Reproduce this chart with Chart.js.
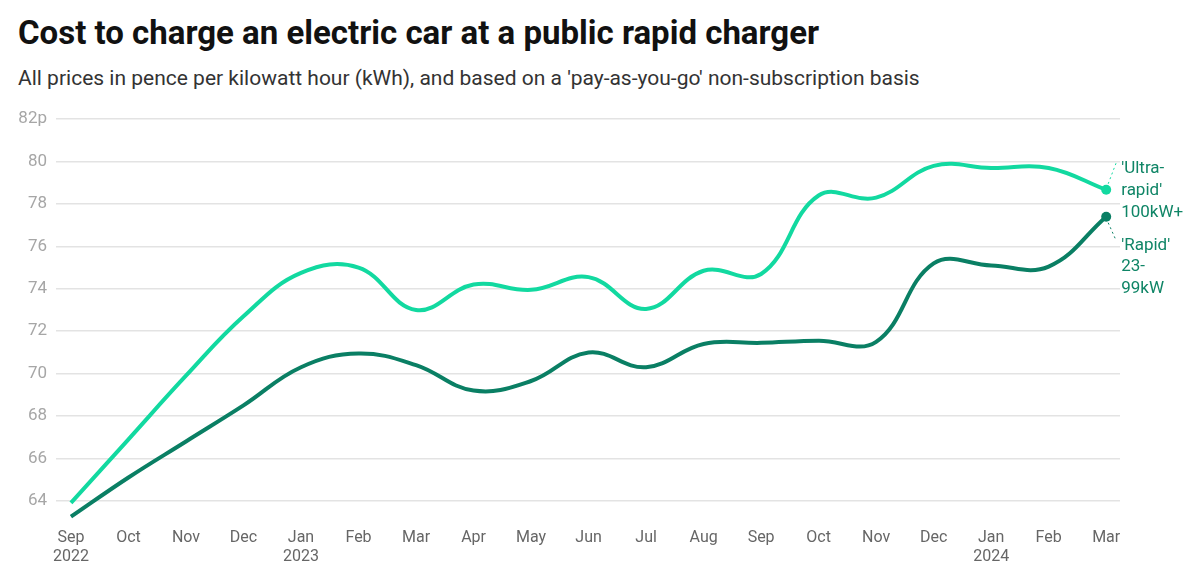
<!DOCTYPE html>
<html>
<head>
<meta charset="utf-8">
<script src="https://cdn.jsdelivr.net/npm/chart.js@4"></script>
<style>
  body { margin: 0; background: #fff; font-family: Roboto, sans-serif; }
  #wrap { position: relative; width: 1198px; height: 582px; overflow: hidden; }
  h1 { position: absolute; left: 18px; top: 13px; margin: 0; font-size: 33px; font-weight: 700; color: #111; }
  .sub { position: absolute; left: 18px; top: 66px; margin: 0; font-size: 21px; color: #333; }
  #box { position: absolute; left: 0; top: 100px; width: 1198px; height: 482px; }
</style>
</head>
<body>
<div id="wrap">
  <h1>Cost to charge an electric car at a public rapid charger</h1>
  <p class="sub">All prices in pence per kilowatt hour (kWh), and based on a 'pay-as-you-go' non-subscription basis</p>
  <div id="box"><canvas id="chart"></canvas></div>
</div>
<script>
const months = ["Sep", "Oct", "Nov", "Dec", "Jan", "Feb", "Mar", "Apr", "May", "Jun",
  "Jul", "Aug", "Sep", "Oct", "Nov", "Dec", "Jan", "Feb", "Mar"];
const years = { 0: "2022", 4: "2023", 16: "2024" };
const ultraRapid = [63.9, 66.9, 69.9, 72.7, 74.75, 75.0, 73.0, 74.2, 73.95, 74.55,
  73.05, 74.85, 74.7, 78.4, 78.3, 79.8, 79.7, 79.7, 78.67];
const rapid = [63.25, 65.1, 66.8, 68.5, 70.3, 70.95, 70.4, 69.2, 69.65, 71.0,
  70.3, 71.4, 71.45, 71.55, 71.5, 75.2, 75.1, 75.05, 77.4];
const yTicks = [64, 66, 68, 70, 72, 74, 76, 78, 80, 82];
const ultraLabel = ["'Ultra-", "rapid'", "100kW+"];
const rapidLabel = ["'Rapid'", "23-", "99kW"];

const lightGreen = "#12d9a0";
const darkGreen = "#0a7f64";
const last = months.length - 1;

const endLabels = {
  id: "endLabels",
  afterDatasetsDraw(chart) {
    const ctx = chart.ctx;
    const x = chart.scales.x;
    const y = chart.scales.y;
    const px = x.getPixelForValue(last);
    const pu = y.getPixelForValue(ultraRapid[last]);
    const pr = y.getPixelForValue(rapid[last]);
    ctx.save();
    ctx.setLineDash([2, 3]);
    ctx.lineWidth = 1;
    ctx.strokeStyle = lightGreen;
    ctx.beginPath();
    ctx.moveTo(px + 2, pu - 6);
    ctx.lineTo(px + 10, pu - 27);
    ctx.stroke();
    ctx.strokeStyle = darkGreen;
    ctx.beginPath();
    ctx.moveTo(px + 2, pr + 6);
    ctx.lineTo(px + 10, pr + 24);
    ctx.stroke();
    ctx.setLineDash([]);
    ctx.fillStyle = "#0f8566";
    ctx.font = "17px Roboto";
    ctx.textBaseline = "middle";
    ctx.textAlign = "left";
    ultraLabel.forEach((t, i) => ctx.fillText(t, px + 15, pu - 21 + i * 22));
    rapidLabel.forEach((t, i) => ctx.fillText(t, px + 15, pr + 29 + i * 21.5));
    ctx.restore();
  },
};

const lastOnly = (r) => (c) => (c.dataIndex === last ? r : 0);

new Chart(document.getElementById("chart"), {
  type: "line",
  data: {
    datasets: [
      {
        label: "'Ultra-rapid' 100kW+",
        data: ultraRapid.map((v, i) => ({ x: i, y: v })),
        borderColor: lightGreen,
        backgroundColor: lightGreen,
        borderWidth: 4,
        tension: 0.4,
        pointRadius: lastOnly(5),
        pointHoverRadius: lastOnly(5),
        pointBorderWidth: 0,
      },
      {
        label: "'Rapid' 23-99kW",
        data: rapid.map((v, i) => ({ x: i, y: v })),
        borderColor: darkGreen,
        backgroundColor: darkGreen,
        borderWidth: 4,
        tension: 0.4,
        pointRadius: lastOnly(5),
        pointHoverRadius: lastOnly(5),
        pointBorderWidth: 0,
      },
    ],
  },
  options: {
    responsive: true,
    maintainAspectRatio: false,
    animation: false,
    layout: { padding: { top: 19, right: 78, bottom: 0, left: 0 } },
    plugins: { legend: { display: false }, tooltip: { enabled: false } },
    scales: {
      x: {
        type: "linear",
        min: -0.26,
        max: 18.24,
        afterBuildTicks: (axis) => {
          axis.ticks = months.map((m, i) => ({ value: i }));
        },
        afterFit: (scale) => {
          scale.height = 60;
        },
        grid: { display: false, drawTicks: false },
        border: { display: false },
        ticks: {
          padding: 6,
          color: "#666",
          font: { family: "Roboto", size: 16 },
          maxRotation: 0,
          autoSkip: false,
          callback: (v) => (years[v] ? [months[v], years[v]] : months[v]),
        },
      },
      y: {
        min: 63,
        max: 82,
        afterBuildTicks: (axis) => {
          axis.ticks = yTicks.map((v) => ({ value: v }));
        },
        afterFit: (scale) => {
          scale.width = 56;
        },
        grid: { color: "#e3e3e3", lineWidth: 1.5, drawTicks: false },
        border: { display: false },
        ticks: {
          padding: 9,
          color: "#a6a6a6",
          font: { family: "Roboto", size: 17 },
          callback: (v) => (v === 82 ? "82p" : v),
        },
      },
    },
  },
  plugins: [endLabels],
});
</script>
</body>
</html>
